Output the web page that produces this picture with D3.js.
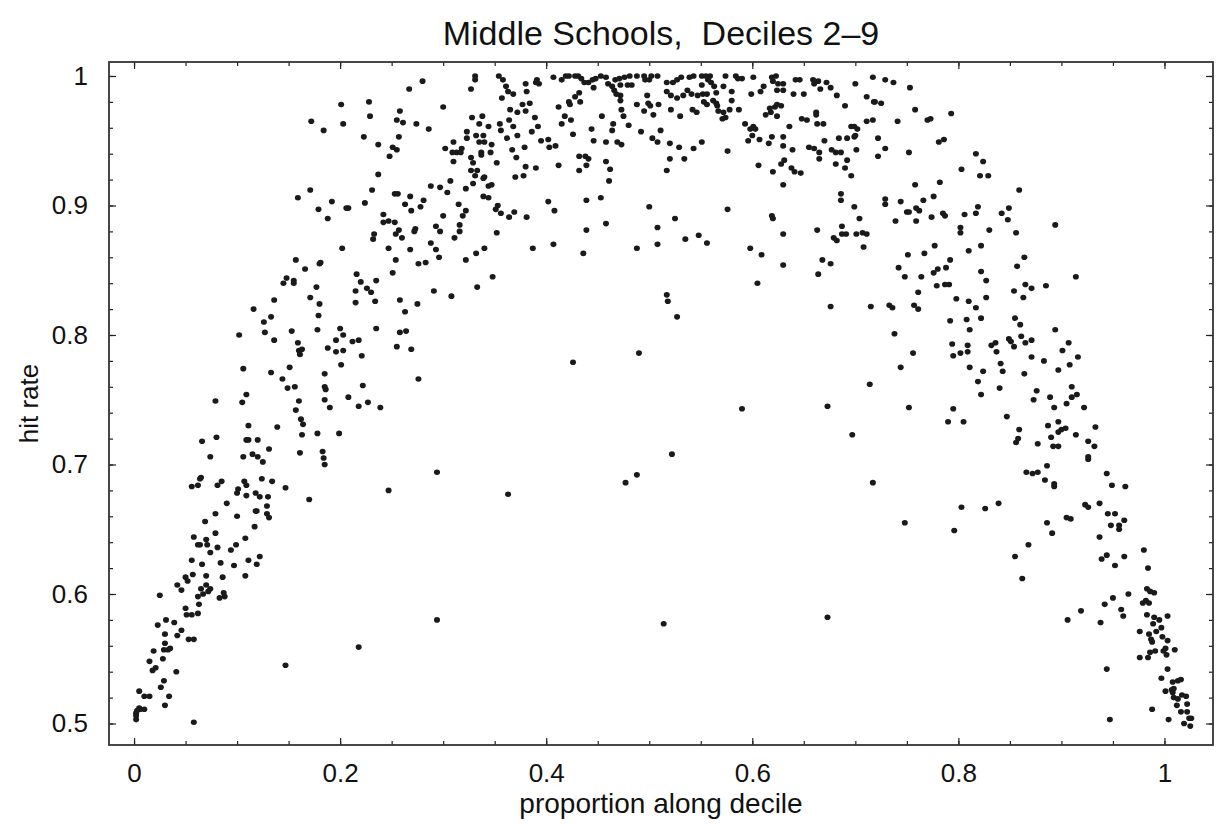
<!DOCTYPE html>
<html lang="en">
<head>
    <meta charset="UTF-8">
    <title>Middle Schools, Deciles 2-9</title>
    <script src="https://cdn.jsdelivr.net/npm/d3@7/dist/d3.min.js"></script>
    <style>
        body { margin: 0; background: #fff; }
        text { font-family: "Liberation Sans", Arial, sans-serif; fill: #111; }
    </style>
</head>
<body>
    <svg id="mainsvg" width="1216" height="831"></svg>
    <script>
        // [proportion along decile, hit rate], grouped by area of the plot
        const upperLeft = [[0.331,1.000],[0.331,0.997],[0.280,0.996],[0.267,0.990],[0.327,0.990],[0.201,0.978],[0.228,0.980],[0.300,0.976],[0.258,0.973],[0.229,0.969],[0.328,0.968],[0.172,0.965],[0.203,0.963],[0.255,0.966],[0.261,0.964],[0.274,0.963],[0.184,0.958],[0.286,0.959],[0.323,0.957],[0.332,0.954],[0.223,0.953],[0.257,0.953],[0.323,0.952],[0.310,0.949],[0.237,0.947],[0.251,0.945],[0.255,0.943],[0.302,0.944],[0.318,0.944],[0.309,0.941],[0.313,0.941],[0.317,0.941],[0.248,0.938],[0.327,0.937],[0.310,0.934],[0.329,0.933],[0.327,0.927],[0.333,0.927],[0.331,0.923],[0.237,0.924],[0.307,0.919],[0.329,0.917],[0.288,0.915],[0.297,0.914],[0.304,0.910],[0.322,0.913],[0.171,0.912],[0.231,0.912],[0.159,0.906],[0.253,0.909],[0.256,0.909],[0.268,0.907],[0.281,0.904],[0.192,0.903],[0.224,0.902],[0.263,0.901],[0.179,0.897],[0.206,0.898],[0.208,0.898],[0.278,0.899],[0.315,0.901],[0.269,0.896],[0.322,0.896],[0.188,0.890],[0.242,0.893],[0.319,0.892],[0.300,0.892],[0.242,0.887],[0.247,0.888],[0.253,0.887],[0.293,0.884],[0.316,0.885],[0.257,0.881],[0.254,0.878],[0.272,0.880],[0.273,0.882],[0.297,0.880],[0.316,0.880],[0.233,0.878],[0.232,0.874],[0.260,0.875],[0.311,0.875],[0.288,0.871],[0.202,0.867],[0.247,0.867],[0.268,0.866],[0.293,0.866],[0.332,0.863],[0.157,0.858],[0.254,0.858],[0.296,0.860],[0.322,0.858],[0.166,0.851],[0.180,0.855],[0.181,0.856],[0.276,0.855],[0.283,0.856],[0.148,0.844],[0.145,0.840],[0.155,0.842],[0.155,0.840],[0.216,0.847],[0.251,0.848],[0.220,0.841],[0.235,0.842],[0.177,0.837],[0.215,0.834],[0.226,0.836],[0.230,0.833],[0.291,0.834],[0.333,0.837]];

        const middleLeft = [[0.136,0.827],[0.171,0.829],[0.180,0.824],[0.215,0.825],[0.234,0.826],[0.258,0.827],[0.275,0.824],[0.308,0.830],[0.116,0.820],[0.133,0.814],[0.179,0.815],[0.263,0.818],[0.126,0.810],[0.127,0.802],[0.102,0.800],[0.153,0.803],[0.178,0.804],[0.200,0.805],[0.235,0.805],[0.258,0.802],[0.264,0.803],[0.203,0.800],[0.136,0.796],[0.159,0.794],[0.196,0.796],[0.212,0.795],[0.218,0.796],[0.160,0.788],[0.163,0.789],[0.161,0.785],[0.188,0.790],[0.196,0.787],[0.203,0.788],[0.221,0.784],[0.255,0.791],[0.269,0.789],[0.201,0.777],[0.106,0.774],[0.133,0.771],[0.151,0.775],[0.185,0.770],[0.144,0.766],[0.149,0.759],[0.156,0.760],[0.185,0.760],[0.186,0.758],[0.222,0.761],[0.276,0.766],[0.109,0.754],[0.079,0.749],[0.105,0.748],[0.160,0.749],[0.185,0.750],[0.208,0.752],[0.190,0.744],[0.218,0.745],[0.227,0.748],[0.239,0.744],[0.157,0.742],[0.162,0.735],[0.164,0.731],[0.111,0.730],[0.139,0.729],[0.163,0.723],[0.178,0.724],[0.199,0.724],[0.066,0.718],[0.080,0.721],[0.109,0.719],[0.111,0.719],[0.120,0.719],[0.131,0.712],[0.161,0.709],[0.183,0.710],[0.184,0.705],[0.185,0.700],[0.074,0.706],[0.106,0.706],[0.115,0.708],[0.120,0.706],[0.125,0.702],[0.294,0.694],[0.065,0.690],[0.064,0.689],[0.056,0.683],[0.062,0.684],[0.081,0.684],[0.085,0.687],[0.107,0.687],[0.109,0.684],[0.124,0.689],[0.134,0.687],[0.101,0.681],[0.100,0.678],[0.118,0.678],[0.109,0.676],[0.122,0.675],[0.130,0.675],[0.147,0.682],[0.247,0.680],[0.170,0.673],[0.090,0.670],[0.129,0.668],[0.119,0.664],[0.118,0.664],[0.079,0.662],[0.100,0.660],[0.129,0.662],[0.131,0.659],[0.069,0.656]];

        const lowerLeft = [[0.117,0.652],[0.058,0.644],[0.070,0.642],[0.079,0.647],[0.108,0.643],[0.062,0.638],[0.064,0.638],[0.071,0.638],[0.081,0.636],[0.099,0.638],[0.094,0.634],[0.074,0.632],[0.122,0.629],[0.056,0.626],[0.066,0.623],[0.084,0.624],[0.111,0.626],[0.119,0.623],[0.097,0.622],[0.057,0.615],[0.070,0.614],[0.086,0.613],[0.108,0.614],[0.050,0.613],[0.052,0.610],[0.042,0.607],[0.046,0.603],[0.070,0.607],[0.065,0.604],[0.067,0.600],[0.072,0.602],[0.074,0.604],[0.025,0.599],[0.087,0.601],[0.088,0.598],[0.083,0.597],[0.062,0.598],[0.063,0.592],[0.050,0.589],[0.051,0.584],[0.056,0.584],[0.062,0.585],[0.031,0.580],[0.023,0.576],[0.039,0.578],[0.046,0.572],[0.030,0.569],[0.042,0.568],[0.053,0.565],[0.058,0.565],[0.030,0.562],[0.029,0.557],[0.033,0.557],[0.035,0.558],[0.019,0.556],[0.028,0.550],[0.015,0.548],[0.018,0.541],[0.021,0.543],[0.041,0.540],[0.147,0.545],[0.218,0.559],[0.294,0.580],[0.029,0.533],[0.026,0.528],[0.005,0.525],[0.010,0.521],[0.015,0.521],[0.034,0.521],[0.030,0.514],[0.005,0.512],[0.006,0.511],[0.010,0.511],[0.003,0.510],[0.002,0.508],[0.002,0.506],[0.002,0.503],[0.058,0.501]];

        const upperMid = [[0.354,1.000],[0.358,0.997],[0.361,0.992],[0.363,0.988],[0.368,0.986],[0.357,0.983],[0.380,0.994],[0.381,0.988],[0.391,0.997],[0.393,0.994],[0.390,0.995],[0.407,0.999],[0.415,0.997],[0.419,1.000],[0.422,1.000],[0.428,1.000],[0.431,1.000],[0.434,0.998],[0.437,0.995],[0.441,0.995],[0.445,0.997],[0.448,0.998],[0.453,1.000],[0.458,0.999],[0.446,0.991],[0.432,0.987],[0.428,0.984],[0.422,0.980],[0.423,0.978],[0.433,0.980],[0.412,0.976],[0.418,0.969],[0.424,0.966],[0.415,0.963],[0.454,0.969],[0.460,0.994],[0.464,0.992],[0.466,0.989],[0.468,0.986],[0.467,0.997],[0.471,0.998],[0.476,0.999],[0.481,1.000],[0.472,0.993],[0.479,0.993],[0.483,0.993],[0.488,1.000],[0.495,1.000],[0.496,0.997],[0.500,0.997],[0.502,1.000],[0.508,1.000],[0.472,0.985],[0.472,0.981],[0.498,0.985],[0.488,0.978],[0.499,0.979],[0.501,0.977],[0.509,0.978],[0.495,0.973],[0.504,0.970],[0.473,0.974],[0.475,0.969],[0.480,0.962],[0.465,0.963],[0.464,0.958],[0.444,0.959],[0.446,0.950],[0.426,0.955],[0.458,0.949],[0.469,0.949],[0.473,0.947],[0.492,0.957],[0.511,0.958],[0.503,0.952],[0.508,0.949],[0.517,0.995],[0.523,0.995],[0.527,0.997],[0.531,0.999],[0.517,0.988],[0.521,0.985],[0.527,0.983],[0.533,0.985],[0.537,0.989],[0.541,0.986],[0.539,0.999],[0.543,1.000],[0.551,1.000],[0.555,1.000],[0.559,1.000],[0.551,0.993],[0.557,0.997],[0.560,0.995],[0.563,0.992],[0.547,0.985],[0.552,0.986],[0.556,0.986],[0.565,0.987],[0.553,0.980],[0.556,0.978],[0.562,0.981],[0.565,0.979],[0.566,0.977],[0.567,0.973],[0.572,0.972],[0.574,0.968],[0.571,0.967],[0.572,0.992],[0.574,1.000],[0.580,0.988],[0.580,0.981],[0.578,0.974],[0.587,0.974],[0.584,1.000],[0.586,0.998],[0.590,0.998],[0.601,0.999],[0.599,0.986],[0.611,0.992],[0.608,0.988],[0.619,0.999],[0.623,1.000],[0.620,0.996],[0.625,0.994],[0.630,0.994],[0.624,0.989],[0.630,0.989],[0.640,0.986],[0.650,0.986],[0.642,0.997],[0.646,0.997],[0.659,0.997],[0.660,0.994],[0.664,0.996],[0.672,0.995],[0.666,0.990],[0.676,0.991],[0.682,0.985],[0.690,0.977],[0.530,0.969],[0.521,0.974],[0.542,0.974],[0.546,0.972],[0.613,0.970],[0.618,0.972],[0.617,0.975],[0.622,0.976],[0.624,0.978],[0.628,0.977],[0.624,0.969],[0.593,0.963],[0.598,0.959],[0.601,0.961],[0.603,0.959],[0.636,0.961],[0.648,0.967],[0.653,0.966],[0.662,0.970],[0.662,0.972],[0.663,0.963],[0.669,0.963],[0.596,0.950],[0.600,0.954],[0.607,0.951],[0.619,0.953],[0.616,0.948],[0.630,0.953],[0.630,0.946],[0.639,0.943],[0.670,0.950],[0.684,0.952],[0.692,0.952],[0.655,0.945],[0.660,0.944],[0.665,0.941],[0.665,0.936],[0.677,0.943],[0.681,0.941],[0.686,0.941],[0.681,0.932],[0.690,0.929],[0.692,0.935],[0.631,0.935],[0.628,0.932],[0.638,0.929],[0.641,0.926],[0.647,0.925],[0.620,0.926],[0.606,0.931],[0.630,0.916],[0.576,0.942],[0.520,0.948],[0.529,0.945],[0.543,0.944],[0.551,0.949],[0.520,0.936],[0.534,0.936],[0.517,0.927],[0.458,0.934],[0.462,0.928],[0.461,0.919],[0.432,0.938],[0.438,0.938],[0.441,0.936],[0.432,0.927],[0.439,0.931],[0.412,0.931],[0.390,0.929],[0.380,0.930],[0.378,0.923],[0.370,0.922],[0.371,0.937],[0.367,0.943],[0.379,0.945],[0.372,0.954],[0.362,0.952],[0.356,0.958],[0.355,0.963],[0.368,0.961],[0.364,0.966],[0.372,0.972],[0.365,0.974],[0.377,0.978],[0.380,0.973],[0.384,0.979],[0.389,0.968],[0.392,0.961],[0.386,0.957],[0.395,0.950],[0.402,0.951],[0.403,0.945],[0.409,0.946],[0.338,0.969],[0.335,0.963],[0.344,0.961],[0.339,0.954],[0.340,0.949],[0.335,0.949],[0.347,0.947],[0.337,0.941],[0.337,0.939],[0.346,0.941],[0.352,0.933],[0.340,0.922],[0.339,0.921],[0.344,0.915],[0.347,0.916],[0.339,0.907],[0.344,0.906],[0.353,0.900],[0.351,0.897],[0.356,0.894],[0.364,0.891],[0.369,0.895],[0.381,0.891],[0.352,0.879],[0.402,0.903],[0.408,0.896],[0.439,0.904],[0.453,0.906],[0.439,0.881],[0.458,0.886],[0.500,0.899],[0.525,0.890],[0.508,0.883],[0.508,0.870],[0.535,0.874],[0.548,0.877],[0.556,0.871],[0.576,0.897],[0.488,0.867],[0.436,0.863],[0.407,0.870],[0.387,0.867],[0.340,0.867],[0.348,0.845],[0.598,0.867],[0.609,0.862],[0.630,0.878],[0.630,0.854],[0.619,0.892],[0.620,0.890],[0.663,0.881],[0.668,0.858],[0.676,0.855],[0.664,0.847],[0.605,0.840],[0.686,0.909],[0.686,0.904],[0.687,0.884],[0.679,0.875],[0.682,0.873],[0.687,0.878],[0.691,0.878]];

        const middleMid = [[0.517,0.831],[0.518,0.826],[0.527,0.814],[0.676,0.822],[0.426,0.779],[0.490,0.786],[0.590,0.743],[0.673,0.745],[0.522,0.708],[0.488,0.692],[0.477,0.686],[0.363,0.677]];

        const lowerMid = [[0.514,0.577],[0.673,0.582]];

        const upperRight = [[0.717,0.999],[0.729,0.997],[0.737,0.995],[0.700,0.994],[0.753,0.991],[0.711,0.984],[0.719,0.980],[0.718,0.980],[0.725,0.979],[0.758,0.974],[0.793,0.971],[0.711,0.965],[0.717,0.966],[0.741,0.965],[0.770,0.966],[0.773,0.967],[0.696,0.961],[0.699,0.961],[0.702,0.959],[0.699,0.953],[0.700,0.954],[0.722,0.952],[0.729,0.944],[0.701,0.943],[0.722,0.938],[0.752,0.941],[0.781,0.949],[0.786,0.951],[0.696,0.923],[0.817,0.940],[0.824,0.934],[0.803,0.928],[0.821,0.923],[0.829,0.923],[0.859,0.912],[0.758,0.916],[0.782,0.918],[0.729,0.905],[0.729,0.901],[0.744,0.903],[0.766,0.904],[0.776,0.907],[0.699,0.899],[0.750,0.895],[0.752,0.895],[0.759,0.898],[0.762,0.896],[0.739,0.888],[0.759,0.888],[0.774,0.891],[0.785,0.894],[0.787,0.892],[0.806,0.893],[0.817,0.894],[0.819,0.899],[0.842,0.894],[0.849,0.898],[0.848,0.889],[0.704,0.890],[0.701,0.878],[0.707,0.879],[0.711,0.878],[0.802,0.883],[0.802,0.879],[0.830,0.881],[0.856,0.879],[0.894,0.885],[0.708,0.868],[0.751,0.862],[0.767,0.863],[0.777,0.869],[0.792,0.858],[0.810,0.865],[0.822,0.869],[0.864,0.860],[0.857,0.853],[0.742,0.852],[0.748,0.845],[0.764,0.845],[0.780,0.851],[0.788,0.852],[0.776,0.848],[0.822,0.849],[0.827,0.842],[0.761,0.833],[0.779,0.838],[0.787,0.839],[0.791,0.839],[0.854,0.834],[0.865,0.839],[0.871,0.836],[0.885,0.838],[0.914,0.845]];

        const middleRight = [[0.798,0.828],[0.810,0.826],[0.827,0.829],[0.863,0.829],[0.715,0.822],[0.733,0.823],[0.736,0.821],[0.757,0.823],[0.761,0.820],[0.817,0.821],[0.792,0.811],[0.808,0.812],[0.822,0.813],[0.811,0.804],[0.855,0.813],[0.860,0.808],[0.894,0.804],[0.738,0.801],[0.794,0.793],[0.809,0.792],[0.809,0.787],[0.802,0.786],[0.795,0.784],[0.832,0.792],[0.836,0.794],[0.837,0.787],[0.849,0.797],[0.851,0.795],[0.854,0.791],[0.861,0.799],[0.865,0.794],[0.871,0.796],[0.907,0.794],[0.901,0.788],[0.916,0.783],[0.908,0.777],[0.897,0.773],[0.883,0.780],[0.871,0.783],[0.756,0.786],[0.744,0.775],[0.811,0.775],[0.824,0.772],[0.841,0.778],[0.843,0.772],[0.864,0.770],[0.714,0.762],[0.819,0.764],[0.822,0.754],[0.840,0.759],[0.876,0.757],[0.873,0.750],[0.889,0.752],[0.893,0.744],[0.905,0.747],[0.910,0.760],[0.910,0.752],[0.915,0.754],[0.922,0.744],[0.752,0.744],[0.795,0.743],[0.790,0.733],[0.805,0.733],[0.847,0.737],[0.859,0.727],[0.858,0.720],[0.856,0.717],[0.887,0.730],[0.897,0.733],[0.897,0.725],[0.900,0.727],[0.904,0.728],[0.914,0.723],[0.933,0.729],[0.890,0.721],[0.877,0.716],[0.892,0.714],[0.897,0.714],[0.926,0.718],[0.932,0.714],[0.926,0.706],[0.926,0.704],[0.697,0.723],[0.886,0.699],[0.866,0.694],[0.872,0.693],[0.877,0.694],[0.884,0.688],[0.893,0.685],[0.893,0.683],[0.944,0.693],[0.949,0.684],[0.962,0.683],[0.717,0.686],[0.803,0.667],[0.826,0.666],[0.839,0.670],[0.923,0.669],[0.926,0.667],[0.937,0.670],[0.945,0.662],[0.952,0.662],[0.905,0.659],[0.909,0.658],[0.886,0.655],[0.961,0.657],[0.748,0.655]];

        const lowerRight = [[0.796,0.649],[0.891,0.647],[0.948,0.653],[0.956,0.653],[0.956,0.650],[0.937,0.644],[0.868,0.638],[0.855,0.629],[0.862,0.612],[0.944,0.630],[0.939,0.627],[0.961,0.629],[0.952,0.622],[0.980,0.634],[0.984,0.620],[0.983,0.604],[0.986,0.602],[0.990,0.601],[0.965,0.600],[0.950,0.597],[0.942,0.592],[0.979,0.593],[0.982,0.595],[0.985,0.593],[0.958,0.588],[0.960,0.583],[0.983,0.584],[0.919,0.587],[0.906,0.580],[0.938,0.578],[0.990,0.582],[0.995,0.580],[1.003,0.583],[0.989,0.577],[0.997,0.574],[0.976,0.571],[0.985,0.569],[0.992,0.571],[0.987,0.565],[0.988,0.563],[0.998,0.567],[1.003,0.564],[0.986,0.555],[0.991,0.556],[0.999,0.556],[1.001,0.558],[1.002,0.553],[1.010,0.557],[0.976,0.551],[0.984,0.551],[0.944,0.542],[1.003,0.542],[0.997,0.535],[1.008,0.532],[1.013,0.533],[1.016,0.534],[1.001,0.525],[1.007,0.526],[1.009,0.527],[1.008,0.524],[1.009,0.520],[1.013,0.519],[1.017,0.522],[1.021,0.521],[1.012,0.514],[1.022,0.515],[1.016,0.509],[1.022,0.509],[1.024,0.504],[1.026,0.504],[1.019,0.500],[1.025,0.498],[0.988,0.511],[1.004,0.503],[0.947,0.503]];

        const xMajor = [0, 0.2, 0.4, 0.6, 0.8, 1];
        const yMajor = [0.5, 0.6, 0.7, 0.8, 0.9, 1];
        const xMinor = d3.range(0, 1.0001, 0.05);
        const yMinor = d3.range(0.5, 1.0001, 0.02);

        const data = [].concat(upperLeft, middleLeft, lowerLeft, upperMid, middleMid, lowerMid,
            upperRight, middleRight, lowerRight);

        const svg = d3.select("#mainsvg");
        const width = +svg.attr("width");
        const height = +svg.attr("height");
        const margin = {top: 62, right: 3, bottom: 86, left: 109};
        const innerWidth = width - margin.left - margin.right;
        const innerHeight = height - margin.top - margin.bottom;

        const xScale = d3.scaleLinear().domain([-0.0243, 1.0471]).range([0, innerWidth]);
        const yScale = d3.scaleLinear().domain([0.4834, 1.0108]).range([innerHeight, 0]);

        svg.append("rect").attr("width", width).attr("height", height).attr("fill", "#fff");

        const g = svg.append("g").attr("transform", `translate(${margin.left},${margin.top})`);
        const fmt = d3.format("~g");

        // inward ticks on all four sides; only bottom and left majors get labels
        function ticks(axis, vals, size, padding, transform) {
            const a = g.append("g")
                .attr("transform", transform || null)
                .call(axis.tickValues(vals).tickSizeInner(-size).tickSizeOuter(0)
                    .tickPadding(padding || 0).tickFormat(fmt));
            a.select(".domain").remove();
            a.selectAll("line").attr("stroke", "#222").attr("stroke-width", 1.2);
            if (!padding) a.selectAll("text").remove();
            else a.selectAll("text")
                .attr("font-size", 26)
                .attr("font-family", "Liberation Sans, Arial, sans-serif")
                .attr("fill", "#111");
            return a;
        }
        ticks(d3.axisBottom(xScale), xMinor, 4, 0, `translate(0,${innerHeight})`);
        ticks(d3.axisBottom(xScale), xMajor, 7, 19, `translate(0,${innerHeight})`);
        ticks(d3.axisTop(xScale), xMinor, 4, 0);
        ticks(d3.axisTop(xScale), xMajor, 7, 0);
        ticks(d3.axisLeft(yScale), yMinor, 4, 0);
        ticks(d3.axisLeft(yScale), yMajor, 7, 21);
        ticks(d3.axisRight(yScale), yMinor, 4, 0, `translate(${innerWidth},0)`);
        ticks(d3.axisRight(yScale), yMajor, 7, 0, `translate(${innerWidth},0)`);

        g.append("rect")
            .attr("width", innerWidth).attr("height", innerHeight)
            .attr("fill", "none").attr("stroke", "#333").attr("stroke-width", 1.8);

        g.selectAll(".dot").data(data).join("ellipse")
            .attr("class", "dot")
            .attr("cx", d => xScale(d[0]))
            .attr("cy", d => yScale(d[1]))
            .attr("rx", 3).attr("ry", 2.8)
            .attr("fill", "#1a1a1a");

        svg.append("text")
            .attr("x", margin.left + innerWidth / 2).attr("y", 45)
            .attr("text-anchor", "middle").attr("font-size", 34)
            .style("white-space", "pre")
            .text("Middle Schools,  Deciles 2\u20139");

        svg.append("text")
            .attr("x", margin.left + innerWidth / 2).attr("y", 813)
            .attr("text-anchor", "middle").attr("font-size", 28)
            .text("proportion along decile");

        svg.append("text")
            .attr("transform", `translate(38,${margin.top + innerHeight / 2}) rotate(-90)`)
            .attr("text-anchor", "middle").attr("font-size", 26)
            .text("hit rate");
    </script>
</body>
</html>
